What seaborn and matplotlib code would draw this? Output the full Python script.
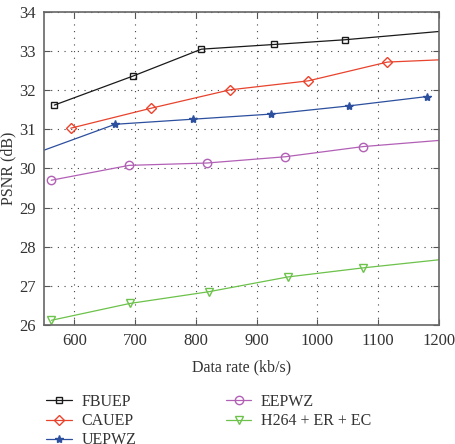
#!/usr/bin/env python3
import pandas as pd
import matplotlib
matplotlib.use("Agg")
import matplotlib.pyplot as plt
import seaborn as sns

# data (points past the axis limits are clipped, as in the original)
fbuep_rate = [567, 696, 809, 929, 1045, 1250]
fbuep_psnr = [31.62, 32.36, 33.05, 33.17, 33.29, 33.57]

cauep_rate = [594, 726, 856, 985, 1115, 1250]
cauep_psnr = [31.03, 31.54, 32.01, 32.24, 32.72, 32.81]

uepwz_rate = [538, 667, 795, 923, 1052, 1181]
uepwz_psnr = [30.40, 31.13, 31.26, 31.39, 31.60, 31.84]

eepwz_rate = [562, 690, 818, 947, 1075, 1250]
eepwz_psnr = [29.70, 30.08, 30.14, 30.30, 30.56, 30.78]

h264_rate = [562, 691, 821, 952, 1075, 1250]
h264_psnr = [26.12, 26.55, 26.85, 27.23, 27.46, 27.75]

# name, x, y, colour, marker, size, filled
series = [
    ("FBUEP", fbuep_rate, fbuep_psnr, "#1a1a1a", "s", 5, False),
    ("CAUEP", cauep_rate, cauep_psnr, "#e8432d", "D", 5.5, False),
    ("UEPWZ", uepwz_rate, uepwz_psnr, "#2c4f9e", "*", 6, True),
    ("EEPWZ", eepwz_rate, eepwz_psnr, "#b260b6", "o", 6, False),
    ("H264 + ER + EC", h264_rate, h264_psnr, "#6cc24a", "v", 6, False),
]

sns.set_style("ticks")
plt.rcParams["font.family"] = ["Liberation Serif", "DejaVu Serif"]

fig = plt.figure(figsize=(4.55, 4.44), dpi=100)
ax = fig.add_axes([0.0967, 0.268, 0.8681, 0.705])

for name, rate, psnr, color, marker, ms, filled in series:
    df = pd.DataFrame({"rate": rate, "psnr": psnr})
    sns.lineplot(data=df, x="rate", y="psnr", ax=ax, sort=False, color=color,
                 marker=marker, markersize=ms,
                 markerfacecolor=color if filled else "none",
                 markeredgecolor=color, markeredgewidth=1.0, linewidth=0.9,
                 label=name)

ax.set_xlim(550, 1200)
ax.set_ylim(26, 34)
ax.set_xticks([600, 700, 800, 900, 1000, 1100, 1200])
ax.set_yticks(range(26, 35))
ax.grid(True, color="#444444", linestyle=(0, (1, 5)), linewidth=0.8)
ax.tick_params(direction="in", top=True, right=True, length=4, width=0.8,
               colors="#555555", labelcolor="#333333", labelsize=12, pad=6)
for sp in ax.spines.values():
    sp.set_color("#666666")
    sp.set_linewidth(1.2)

ax.set_xlabel("Data rate (kb/s)", fontsize=11.5, color="#333333", labelpad=7)
ax.set_ylabel("PSNR (dB)", fontsize=11.5, color="#333333", labelpad=2)

ax.get_legend().remove()
handles, labels = ax.get_legend_handles_labels()
fig.legend(handles, labels, loc="upper left", bbox_to_anchor=(0.088, 0.127),
           ncol=2, frameon=False, fontsize=11.5, labelcolor="#333333",
           handlelength=1.6, handletextpad=0.6, columnspacing=5.6,
           labelspacing=0.2, borderaxespad=0)

fig.savefig("out.png", dpi=100)
